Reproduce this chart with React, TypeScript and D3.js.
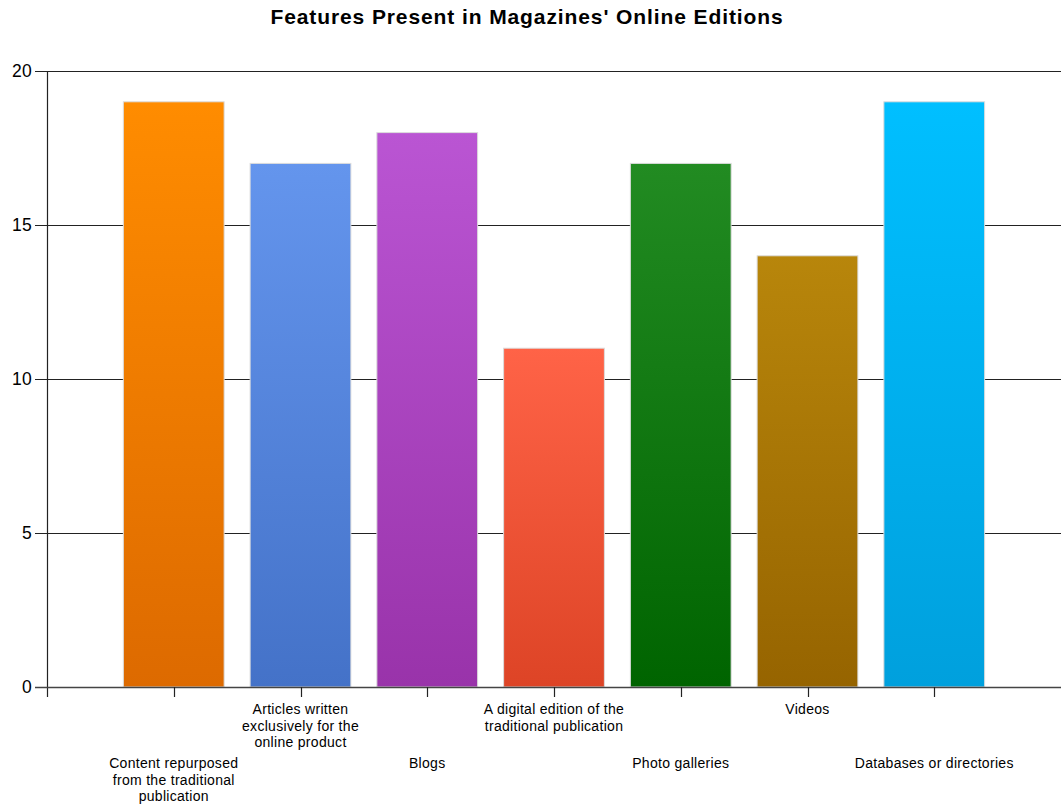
import React from "react";
import * as d3 from "d3";

const categories: string[][] = [
  ["Content repurposed", "from the traditional", "publication"],
  ["Articles written", "exclusively for the", "online product"],
  ["Blogs"],
  ["A digital edition of the", "traditional publication"],
  ["Photo galleries"],
  ["Videos"],
  ["Databases or directories"],
];
const values: number[] = [19, 17, 18, 11, 17, 14, 19];
const topColors: string[] = ["#FF8C00", "#6495ED", "#BA55D3", "#FF6347", "#228B22", "#B8860B", "#00BFFF"];
const bottomColors: string[] = ["#DD6A00", "#4472C8", "#9933AA", "#DD4426", "#006400", "#966400", "#00A0DD"];
const yTicks: number[] = [0, 5, 10, 15, 20];

export default function App() {
  const W = 1061, H = 808;
  const left = 47, right = 1061, top = 71, bottom = 687;
  const x = d3.scaleLinear().domain([0, categories.length + 1]).range([left, right]);
  const y = d3.scaleLinear().domain([0, 20]).range([bottom, top]);
  const step = x(1) - x(0);
  const bw = step * 0.795;
  const font = "'Liberation Sans', Arial, sans-serif";
  return (
    <svg width={W} height={H} style={{ position: "absolute", left: 0, top: 0, background: "#fff" }}>
      <defs>
        {values.map((_, i) => (
          <linearGradient key={i} id={`g${i}`} x1="0" y1="0" x2="0" y2="1">
            <stop offset="0%" stopColor={topColors[i]} />
            <stop offset="100%" stopColor={bottomColors[i]} />
          </linearGradient>
        ))}
      </defs>
      <text x={527} y={24} textAnchor="middle" fontFamily={font} fontWeight="bold" fontSize={21} letterSpacing={0.9} fill="#000">
        Features Present in Magazines' Online Editions
      </text>
      {yTicks.map((t) => (
        <g key={t}>
          <line x1={35} x2={right} y1={Math.round(y(t)) + 0.5} y2={Math.round(y(t)) + 0.5} stroke="#222" strokeWidth={1.2} />
          <text x={32} y={y(t)} dy="0.36em" textAnchor="end" fontFamily={font} fontSize={17.5} letterSpacing={0.3} fill="#000">{t}</text>
        </g>
      ))}
      {values.map((v, i) => (
        <rect key={i} x={x(i + 1) - bw / 2} y={y(v)} width={bw} height={y(0) - y(v)} fill={`url(#g${i})`} stroke="#dcdcdc" strokeWidth={1} />
      ))}
      <line x1={left + 0.5} x2={left + 0.5} y1={top} y2={bottom + 10} stroke="#222" strokeWidth={1.2} />
      <line x1={35} x2={right} y1={Math.round(y(0)) + 0.5} y2={Math.round(y(0)) + 0.5} stroke="#444" strokeWidth={1.5} />
      {categories.map((lines, i) => {
        const cx = x(i + 1);
        const base = i % 2 === 0 ? 768 : 714;
        return (
          <g key={i}>
            <line x1={Math.round(cx) + 0.5} x2={Math.round(cx) + 0.5} y1={bottom} y2={bottom + 10} stroke="#222" strokeWidth={1.2} />
            <text textAnchor="middle" fontFamily={font} fontSize={14} letterSpacing={0.3} fill="#000">
              {lines.map((l, j) => (
                <tspan key={j} x={cx} y={base + j * 16.5}>{l}</tspan>
              ))}
            </text>
          </g>
        );
      })}
    </svg>
  );
}
